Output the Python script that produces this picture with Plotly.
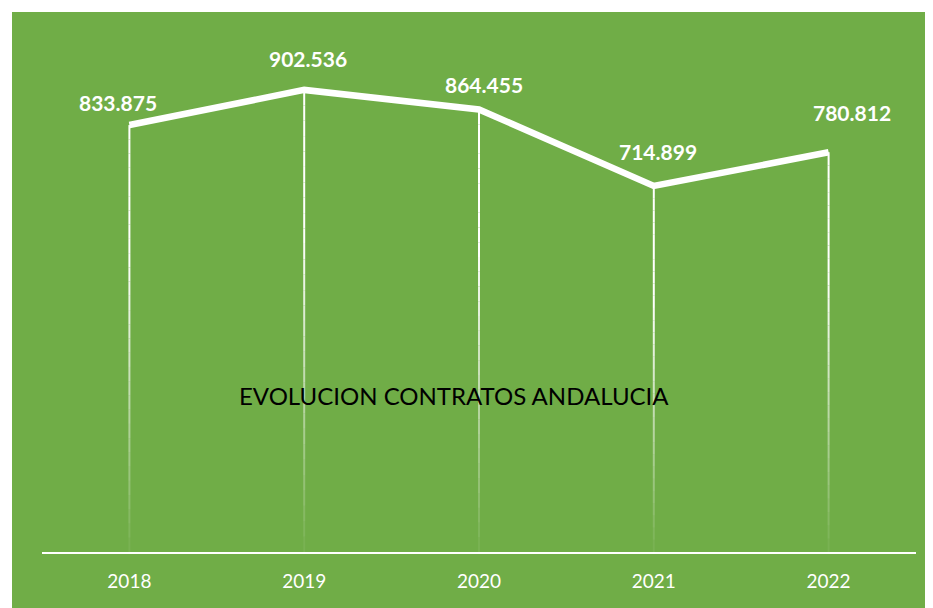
import plotly.graph_objects as go

years = ["2018", "2019", "2020", "2021", "2022"]
contracts = [833875, 902536, 864455, 714899, 780812]
value_labels = ["833.875", "902.536", "864.455", "714.899", "780.812"]
chart_title = "EVOLUCION CONTRATOS ANDALUCIA"

# styling: label offsets (px) relative to each point
label_shift_x = [-11, 4, 5, 4, 23]
label_shift_y = [23, 31, 25, 34, 40]

GREEN = "#70AD47"
OFF = 8  # page body margin
W, H = 933 - OFF, 608 - OFF
L, R, T, B = 42 - OFF, 17, 40 - OFF, 56
pw, ph = W - L - R, H - T - B
axis_y = H + OFF - B  # page y of axis line

fig = go.Figure()

# fading drop lines (gradient approximated by segments)
N = 30
for i in range(N):
    f0, f1 = i / N, (i + 1) / N
    fm = (f0 + f1) / 2
    a = min(1.0, 0.04 + 1.4 * fm)
    xs, ys = [], []
    for yr, v in zip(years, contracts):
        xs += [yr, yr, None]
        ys += [v * f0, v * f1, None]
    fig.add_trace(go.Scatter(x=xs, y=ys, mode="lines",
                             line=dict(color=f"rgba(255,255,255,{a:.3f})", width=2),
                             hoverinfo="skip", showlegend=False))

fig.add_trace(go.Scatter(x=years, y=contracts, mode="lines",
                         line=dict(color="white", width=6.5),
                         showlegend=False))

for idx, (v, t, dx, dy) in enumerate(zip(contracts, value_labels, label_shift_x, label_shift_y)):
    fig.add_annotation(x=idx, y=v, xref="x", yref="y", text=t, showarrow=False,
                       xshift=dx, yshift=dy,
                       font=dict(family="Lato", size=21, color="white", weight="bold"))

fig.add_annotation(xref="paper", yref="paper", x=(454 - 42) / pw, y=(axis_y - 395) / ph,
                   xanchor="center", yanchor="middle",
                   text=chart_title, showarrow=False,
                   font=dict(family="Lato", size=24, color="black"))

# green panel background
fig.add_shape(type="rect", xref="paper", yref="paper", layer="below",
              x0=(12 - 42) / pw, x1=(933 + 5 - 42) / pw,
              y0=-(B + 5) / ph, y1=(axis_y - 12) / ph,
              fillcolor=GREEN, line=dict(width=0))

fig.update_layout(
    width=W, height=H,
    margin=dict(l=L, r=R, t=T, b=B),
    paper_bgcolor="white", plot_bgcolor=GREEN,
    xaxis=dict(type="category", range=[-0.5, 4.5], showgrid=False, zeroline=False,
               showline=True, linecolor="white", linewidth=2,
               tickfont=dict(family="Lato", size=19, color="white"),
               ticks="outside", ticklen=11, tickcolor="rgba(0,0,0,0)",
               fixedrange=True),
    yaxis=dict(range=[0, 1000000], visible=False, fixedrange=True),
)

fig.write_html("out.html")
